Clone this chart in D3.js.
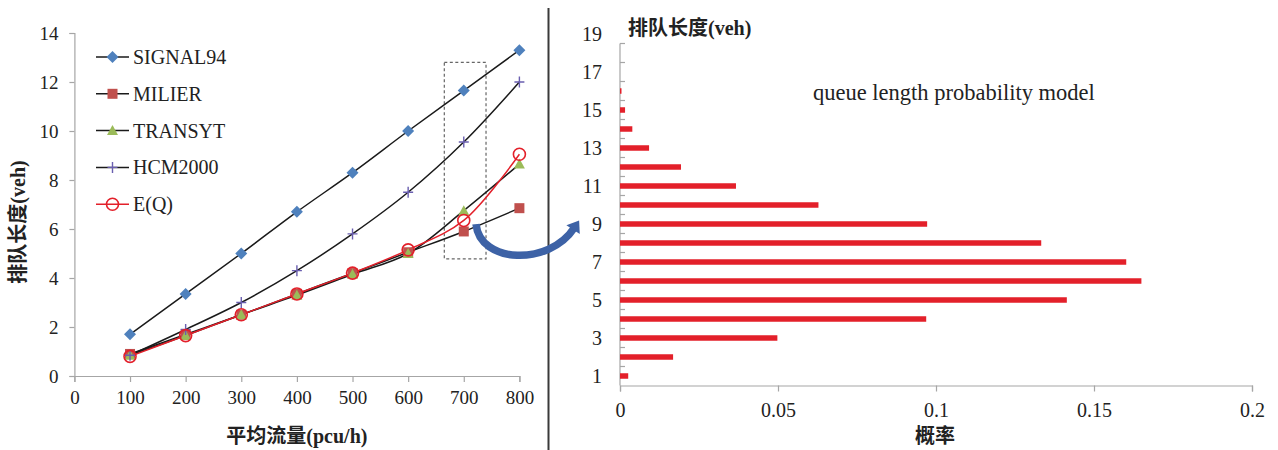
<!DOCTYPE html>
<html><head><meta charset="utf-8">
<script src="https://cdn.jsdelivr.net/npm/d3@7/dist/d3.min.js"></script>
<style>
html,body{margin:0;padding:0;background:#fff;}
svg{display:block;}
text{font-family:"Liberation Serif","Noto Sans CJK SC",serif;}
</style></head>
<body>
<svg id="c" width="1278" height="450"></svg>
<script>
// ---------- data ----------
const flows = [100, 200, 300, 400, 500, 600, 700, 800];
const signal94 = [1.7, 3.35, 5.0, 6.7, 8.3, 10.0, 11.65, 13.3];
const milier   = [0.9, 1.7, 2.5, 3.35, 4.2, 5.05, 5.9, 6.85];
const transyt  = [0.85, 1.65, 2.5, 3.3, 4.15, 5.0, 6.75, 8.65];
const hcm2000  = [0.85, 1.9, 3.0, 4.3, 5.8, 7.5, 9.55, 12.0];
const eq       = [0.8, 1.65, 2.5, 3.35, 4.2, 5.15, 6.35, 9.05];
const seriesNames = ["SIGNAL94", "MILIER", "TRANSYT", "HCM2000", "E(Q)"];
const xTicksLeft = [0, 100, 200, 300, 400, 500, 600, 700, 800];
const yTicksLeft = [0, 2, 4, 6, 8, 10, 12, 14];

const queueLen = [1,2,3,4,5,6,7,8,9,10,11,12,13,14,15,16,17,18,19];
const prob = [0.0026,0.0168,0.0498,0.0969,0.1414,0.165,0.1602,0.1333,0.0972,0.0628,0.0367,0.0193,0.0092,0.0039,0.0016,0.0004,0,0,0];
const xTicksRight = [0, 0.05, 0.1, 0.15, 0.2];
const yLabelsRight = [1,3,5,7,9,11,13,15,17,19];

const svg = d3.select("#c");
const axisGray = "#a6a6a6";
const serif = '"Liberation Serif","Noto Sans CJK SC",serif';

// ---------- left chart ----------
const xL = d3.scaleLinear().domain([0, 800]).range([74.4, 519.4]);
const yL = d3.scaleLinear().domain([0, 14]).range([376, 33]);

const gL = svg.append("g");
const xAxL = gL.append("g").attr("transform", `translate(0,${yL(0)})`)
  .call(d3.axisBottom(xL).tickValues(xTicksLeft).tickSize(6).tickPadding(9).tickFormat(d3.format("d")));
const yAxL = gL.append("g").attr("transform", `translate(${xL(0)},0)`)
  .call(d3.axisLeft(yL).tickValues(yTicksLeft).tickSize(5).tickPadding(11).tickFormat(d3.format("d")));
[xAxL, yAxL].forEach(a => {
  a.attr("font-family", null);
  a.select(".domain").attr("stroke", axisGray).attr("stroke-width", 1.2);
  a.selectAll(".tick line").attr("stroke", axisGray).attr("stroke-width", 1.2);
  a.selectAll(".tick text").attr("font-size", 19).attr("fill", "#222").style("font-family", serif);
});

// dashed highlight box around 700
gL.append("rect")
  .attr("x", xL(665)).attr("y", yL(12.8))
  .attr("width", xL(740) - xL(665)).attr("height", yL(4.78) - yL(12.8))
  .attr("fill", "none").attr("stroke", "#666").attr("stroke-width", 1.2)
  .attr("stroke-dasharray", "3,2.5");

const series = [
  {name: seriesNames[0], vals: signal94, line: "#1a1a1a", marker: "diamond", color: "#4f81bd"},
  {name: seriesNames[1], vals: milier,   line: "#1a1a1a", marker: "square",  color: "#c0504d"},
  {name: seriesNames[2], vals: transyt,  line: "#1a1a1a", marker: "triangle",color: "#9bbb59"},
  {name: seriesNames[3], vals: hcm2000,  line: "#1a1a1a", marker: "plus",    color: "#6a5fb0"},
  {name: seriesNames[4], vals: eq,       line: "#e3202a", marker: "circle",  color: "#e3202a"}
];

const lineGen = d3.line().x(d => xL(d[0])).y(d => yL(d[1])).curve(d3.curveCatmullRom.alpha(0.5));

function drawMarker(g, type, color, cx, cy) {
  if (type === "diamond") {
    const r = 6;
    g.append("path").attr("d", `M${cx},${cy-r}L${cx+r},${cy}L${cx},${cy+r}L${cx-r},${cy}Z`).attr("fill", color);
  } else if (type === "square") {
    g.append("rect").attr("x", cx - 5).attr("y", cy - 5).attr("width", 10).attr("height", 10).attr("fill", color);
  } else if (type === "triangle") {
    g.append("path").attr("d", `M${cx},${cy-5.5}L${cx+5.5},${cy+4.5}L${cx-5.5},${cy+4.5}Z`).attr("fill", color);
  } else if (type === "plus") {
    g.append("path").attr("d", `M${cx-5},${cy}H${cx+5}M${cx},${cy-5.5}V${cy+5.5}`).attr("stroke", color).attr("stroke-width", 1.4);
  } else if (type === "circle") {
    g.append("circle").attr("cx", cx).attr("cy", cy).attr("r", 6).attr("fill", "none").attr("stroke", color).attr("stroke-width", 1.6);
  }
}

series.forEach(s => {
  const pts = flows.map((f, i) => [f, s.vals[i]]);
  gL.append("path").datum(pts).attr("d", lineGen).attr("fill", "none")
    .attr("stroke", s.line).attr("stroke-width", 1.5);
});
series.forEach(s => {
  const mg = gL.append("g");
  flows.forEach((f, i) => drawMarker(mg, s.marker, s.color, xL(f), yL(s.vals[i])));
});

// legend
const leg = gL.append("g").attr("transform", "translate(96,57)");
series.forEach((s, i) => {
  const row = leg.append("g").attr("transform", `translate(0,${i * 36.8})`);
  row.append("line").attr("x1", 0).attr("x2", 33).attr("y1", 0).attr("y2", 0)
    .attr("stroke", s.line).attr("stroke-width", 1.5);
  drawMarker(row, s.marker, s.color, 16.5, 0);
  row.append("text").attr("x", 37).attr("y", 7).attr("font-size", 20).attr("fill", "#222")
    .style("font-family", serif).text(s.name);
});

// left axis titles
gL.append("text").attr("x", (xL(0) + xL(800)) / 2).attr("y", 443).attr("text-anchor", "middle")
  .attr("font-size", 20).attr("font-weight", "bold").attr("fill", "#222").text("平均流量(pcu/h)");
gL.append("text").attr("transform", `translate(25,${222}) rotate(-90)`).attr("text-anchor", "middle")
  .attr("font-size", 20).attr("font-weight", "bold").attr("fill", "#222").text("排队长度(veh)");

// separator line
svg.append("line").attr("x1", 548.5).attr("x2", 548.5).attr("y1", 8).attr("y2", 450)
  .attr("stroke", "#3a3a3a").attr("stroke-width", 2);

// ---------- right chart ----------
const xR = d3.scaleLinear().domain([0, 0.2]).range([620, 1252]);
const yR = d3.scaleBand().domain(queueLen).range([385.5, 24.5]);
const gR = svg.append("g");

const xAxR = gR.append("g").attr("transform", `translate(0,${yR.range()[0]})`)
  .call(d3.axisBottom(xR).tickValues(xTicksRight).tickSize(6).tickPadding(11).tickFormat(d => d === 0 ? "0" : String(d)));
xAxR.attr("font-family", null);
xAxR.select(".domain").attr("stroke", axisGray).attr("stroke-width", 1.2);
xAxR.selectAll(".tick line").attr("stroke", axisGray).attr("stroke-width", 1.2);
xAxR.selectAll(".tick text").attr("font-size", 20).attr("fill", "#222").style("font-family", serif);

// y axis (category) line from top of category 18 down
const yAxisTop = yR(18);
gR.append("line").attr("x1", xR(0)).attr("x2", xR(0)).attr("y1", yAxisTop).attr("y2", yR.range()[0])
  .attr("stroke", axisGray).attr("stroke-width", 1.2);
// tick marks at category boundaries (inside)
gR.selectAll(".cb").data(queueLen.filter(q => q <= 18)).enter().append("line")
  .attr("x1", xR(0)).attr("x2", xR(0) + 5)
  .attr("y1", d => yR(d)).attr("y2", d => yR(d))
  .attr("stroke", axisGray).attr("stroke-width", 1.2);
// labels
gR.selectAll(".yl").data(yLabelsRight).enter().append("text")
  .attr("x", xR(0) - 18).attr("y", d => yR(d) + yR.bandwidth() / 2 + 7)
  .attr("text-anchor", "end").attr("font-size", 20).attr("fill", "#222").style("font-family", serif).text(d => d);

// bars
const barH = 5.5;
gR.selectAll(".bar").data(queueLen.map((q, i) => ({q, p: prob[i]})).filter(d => d.p > 0)).enter().append("rect")
  .attr("x", xR(0)).attr("y", d => yR(d.q) + yR.bandwidth() / 2 - barH / 2)
  .attr("width", d => Math.max(xR(d.p) - xR(0), 1.5)).attr("height", barH)
  .attr("fill", "#e3202a");

// titles
gR.append("text").attr("x", 628).attr("y", 35).attr("font-size", 20).attr("font-weight", "bold")
  .attr("fill", "#222").text("排队长度(veh)");
gR.append("text").attr("x", (xR(0) + xR(0.2)) / 2 - 1).attr("y", 443).attr("text-anchor", "middle")
  .attr("font-size", 20).attr("font-weight", "bold").attr("fill", "#222").text("概率");
gR.append("text").attr("x", 813).attr("y", 100).attr("font-size", 22.5).attr("fill", "#222")
  .style("font-family", serif).text("queue length probability model");

// ---------- curved arrow (annotation linking the two charts) ----------
const p0 = [xL(722), yL(6.2)];
const p3 = [xR(-0.0145), yR(9) + yR.bandwidth() / 2 + 4];
const c1 = [p0[0] + 4, p0[1] + 40];
const c2 = [p3[0] - 25, p3[1] + 38];
svg.append("path")
  .attr("d", `M${p0[0]},${p0[1]}C${c1[0]},${c1[1]} ${c2[0]},${c2[1]} ${p3[0]},${p3[1]}`)
  .attr("fill", "none").attr("stroke", "#3d62a6").attr("stroke-width", 7.5);
// arrowhead
const dx = p3[0] - c2[0], dy = p3[1] - c2[1];
const len = Math.hypot(dx, dy), ux = dx / len, uy = dy / len;
const tip = [p3[0] + ux * 9, p3[1] + uy * 9];
const base = [p3[0] - ux * 2, p3[1] - uy * 2];
const hw = 8;
svg.append("path")
  .attr("d", `M${tip[0]},${tip[1]}L${base[0] - uy * hw},${base[1] + ux * hw}L${base[0] + uy * hw},${base[1] - ux * hw}Z`)
  .attr("fill", "#3d62a6");
</script>
</body></html>
